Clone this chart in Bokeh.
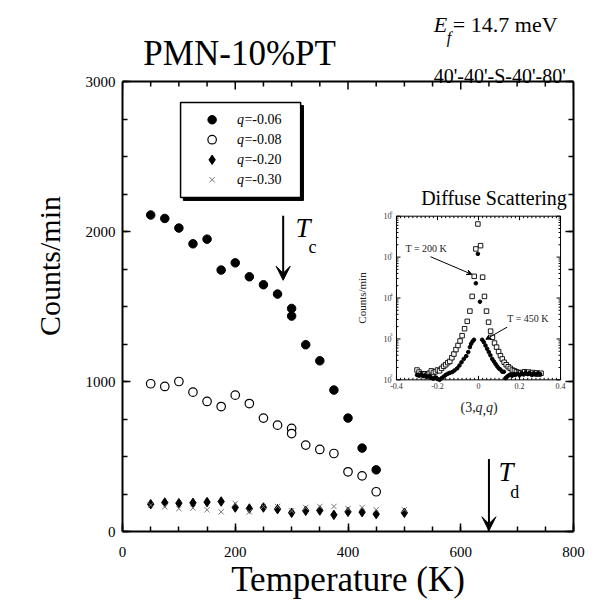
import math
from bokeh.plotting import figure
from bokeh.models import (Range1d, LogScale, LinearAxis, SingleIntervalTicker,
                          Label, Arrow, VeeHead, Title)
from bokeh.core.properties import value
from bokeh.embed import file_html
from bokeh.resources import INLINE

# ---------------- main data ----------------
temps_006 = [50, 75, 100, 125, 150, 175, 200, 225, 250, 275, 300, 300, 325, 350, 375, 400, 425, 450]
counts_006 = [2110, 2087, 2023, 1918, 1949, 1743, 1791, 1698, 1645, 1583, 1487, 1436, 1245, 1138, 943, 756, 556, 411]

temps_008 = [50, 75, 100, 125, 150, 175, 200, 225, 250, 275, 300, 300, 325, 350, 375, 400, 425, 450]
counts_008 = [985, 967, 1000, 929, 867, 833, 909, 853, 756, 709, 687, 653, 576, 547, 520, 398, 371, 265]

temps_020 = [50, 75, 100, 125, 150, 175, 200, 225, 250, 275, 300, 325, 350, 375, 400, 425, 450, 500]
counts_020 = [182, 193, 189, 191, 196, 200, 160, 153, 160, 149, 125, 138, 140, 111, 131, 129, 116, 125]

temps_030 = [50, 75, 100, 125, 150, 175, 200, 225, 250, 275, 300, 325, 350, 375, 400, 425, 450, 500]
counts_030 = [176, 165, 153, 156, 145, 131, 187, 131, 167, 167, 138, 160, 167, 167, 153, 160, 145, 145]

legend_labels = ["=-0.06", "=-0.08", "=-0.20", "=-0.30"]

# ---------------- inset data ----------------
q_200 = [-0.300, -0.290, -0.280, -0.270, -0.260, -0.250, -0.240, -0.230, -0.220, -0.210,
         -0.200, -0.190, -0.180, -0.170, -0.160, -0.150, -0.140, -0.130, -0.120, -0.110,
         -0.100, -0.090, -0.080, -0.068, -0.055, -0.042, -0.031, -0.021, -0.013, -0.003,
         0.010, 0.020, 0.029, 0.039, 0.049, 0.059, 0.068, 0.078, 0.088, 0.098,
         0.107, 0.116, 0.125, 0.135, 0.145, 0.155, 0.165, 0.175, 0.185, 0.195,
         0.205, 0.215, 0.225, 0.235, 0.245, 0.255, 0.265, 0.275, 0.285, 0.295, 0.305]
c_200 = [174, 155, 141, 135, 141, 135, 145, 166, 151, 158,
         174, 166, 191, 214, 234, 263, 282, 347, 427, 550,
         692, 891, 1202, 1778, 2692, 4786, 10960, 33900, 158500, 645700,
         190500, 32360, 10960, 4786, 2570, 1549, 1096, 794, 631, 490,
         389, 324, 269, 234, 209, 191, 174, 166, 158, 151,
         148, 151, 158, 148, 155, 145, 151, 141, 148, 138, 145]

q_450 = [-0.300, -0.290, -0.280, -0.270, -0.260, -0.250, -0.240, -0.230, -0.220, -0.210,
         -0.200, -0.190, -0.180, -0.170, -0.160, -0.150, -0.140, -0.128, -0.117, -0.104,
         -0.093, -0.083, -0.072, -0.060, -0.050, -0.042, -0.036, -0.029, -0.022, -0.013,
         -0.003, 0.007, 0.018, 0.026, 0.034, 0.042, 0.050, 0.058, 0.067, 0.075,
         0.083, 0.091, 0.099, 0.107, 0.116, 0.124, 0.132, 0.140, 0.148, 0.156,
         0.164, 0.172, 0.180, 0.190, 0.200, 0.210, 0.220, 0.230, 0.240, 0.250,
         0.260, 0.270, 0.280, 0.290, 0.300]
c_450 = [132, 126, 135, 123, 129, 117, 126, 112, 107, 115,
         105, 100, 110, 120, 132, 141, 148, 155, 170, 191,
         224, 269, 324, 380, 479, 631, 759, 871, 955, 22900,
         120200, 8128, 955, 832, 692, 575, 479, 398, 324, 282,
         245, 214, 191, 178, 158, 158, 110, 120, 129, 135,
         126, 138, 132, 141, 129, 145, 135, 148, 138, 145,
         132, 141, 135, 145, 138]

inset_xticks = [-0.4, -0.2, 0.0, 0.2, 0.4]
inset_xtick_labels = ["-0.4", "-0.2", "0", "0.2", "0.4"]
inset_yexps = [2, 3, 4, 5, 6]

top_ticks = list(range(0, 801, 50))

FONT = "Liberation Serif"
Y_MAX = 3000          # top of the data box
Y_TOP = 3540          # frame continues above the box so the titles stay inside it

p = figure(width=595, height=605, x_range=Range1d(0, 800), y_range=Range1d(0, Y_TOP),
           output_backend="svg", toolbar_location=None, title=None,
           min_border_left=122, min_border_right=22, min_border_top=0,
           min_border_bottom=74)
p.xgrid.visible = False
p.ygrid.visible = False
p.outline_line_color = None
p.background_fill_color = "white"
p.border_fill_color = "white"

def style_axis(ax, interval, minor, show_labels):
    ax.ticker = SingleIntervalTicker(interval=interval, num_minor_ticks=minor)
    ax.axis_line_width = 2
    ax.axis_line_color = "black"
    ax.major_tick_in = 8
    ax.major_tick_out = 0
    ax.minor_tick_in = 5
    ax.minor_tick_out = 0
    ax.major_tick_line_width = 1.5
    ax.minor_tick_line_width = 1.5
    ax.major_label_text_font = FONT
    if show_labels:
        ax.major_label_text_font_size = "15px"
        ax.major_label_text_color = "black"
    else:
        ax.major_label_text_font_size = "1px"
        ax.major_label_text_color = None
        ax.major_label_standoff = 0

xa = p.xaxis[0]
ya = p.yaxis[0]
style_axis(xa, 200, 4, True)
style_axis(ya, 1000, 4, True)
ya.bounds = (0, Y_MAX)
xa.major_label_standoff = 15
ya.major_label_standoff = 7
xa.axis_label = "Temperature (K)"
xa.axis_label_text_font = FONT
xa.axis_label_text_font_style = "normal"
xa.axis_label_text_color = "black"
xa.axis_label_text_font_size = "35px"
xa.axis_label_standoff = 0

# y axis title: centred on the 0..3000 box, not on the taller frame
ytitle = Title(text="Counts/min", align="center", offset=-40, standoff=30,
               vertical_align="top",
               text_font=FONT, text_font_size="30px", text_font_style="normal",
               text_color="black")
p.add_layout(ytitle, "left")

right_ax = LinearAxis()
style_axis(right_ax, 1000, 4, False)
right_ax.bounds = (0, Y_MAX)
p.add_layout(right_ax, "right")

# top edge of the box with inward ticks
p.segment(x0=[0], y0=[Y_MAX], x1=[800], y1=[Y_MAX], line_color="black", line_width=2)
p.ray(x=top_ticks, y=[Y_MAX] * len(top_ticks),
      length=[8 if t % 200 == 0 else 5 for t in top_ticks], length_units="screen",
      angle=-math.pi / 2, line_color="black", line_width=1.5)

# ---------------- main series ----------------
p.scatter(temps_006, counts_006, marker="circle", size=8.5, fill_color="black", line_color="black")
p.scatter(temps_008, counts_008, marker="circle", size=8.5, fill_color="white", line_color="black", line_width=1.2)
p.scatter(temps_020, counts_020, marker="diamond", size=9.5, fill_color="black", line_color="black")
p.scatter(temps_030, counts_030, marker="x", size=7.5, line_color="#777777", line_width=1)

# ---------------- legend box ----------------
p.quad(left=[108], right=[321], bottom=[2207], top=[2840], fill_color="black", line_color="black")
p.quad(left=[103], right=[316], bottom=[2227], top=[2860], fill_color="white", line_color="black", line_width=1.5)
leg_y = [2745, 2612, 2478, 2345]
leg_x = [159] * 4
p.scatter(leg_x[0:1], leg_y[0:1], marker="circle", size=8.5, fill_color="black", line_color="black")
p.scatter(leg_x[1:2], leg_y[1:2], marker="circle", size=8.5, fill_color="white", line_color="black", line_width=1.2)
p.scatter(leg_x[2:3], leg_y[2:3], marker="diamond", size=9.5, fill_color="black", line_color="black")
p.scatter(leg_x[3:4], leg_y[3:4], marker="x", size=7.5, line_color="#777777", line_width=1)
for yy, lab in zip(leg_y, legend_labels):
    p.add_layout(Label(x=203, y=yy, text="q", text_font=FONT, text_font_style="italic",
                       text_font_size="14px", text_baseline="middle", text_color="black"))
    p.add_layout(Label(x=203, y=yy, x_offset=7.5, text=lab, text_font=FONT,
                       text_font_size="14px", text_baseline="middle", text_color="black"))

# ---------------- texts ----------------
def label(x, y, text, size, style="normal", **kw):
    p.add_layout(Label(x=x, y=y, text=text, text_font=FONT, text_font_style=style,
                       text_font_size=size, text_color="black", **kw))

label(37, 3190, "PMN-10%PT", "35px", text_baseline="alphabetic")
label(552, 3380, "E", "22px", "italic", text_baseline="alphabetic")
label(575, 3293, "f", "16px", "italic", text_baseline="alphabetic")
label(586, 3380, "= 14.7 meV", "22px", text_baseline="alphabetic")
label(552, 3040, "40'-40'-S-40'-80'", "20px", text_baseline="alphabetic")

label(659, 2153, "Diffuse Scattering", "20px", text_align="center")
label(307, 1925, "T", "27px", "italic")
label(330, 1828, "c", "18px")
label(667, 300, "T", "27px", "italic")
label(688, 200, "d", "18px")

p.add_layout(Arrow(end=VeeHead(size=14, fill_color="black", line_color="black"),
                   x_start=285, y_start=2105, x_end=285, y_end=1675,
                   line_width=2, line_color="black"))
p.add_layout(Arrow(end=VeeHead(size=14, fill_color="black", line_color="black"),
                   x_start=650, y_start=483, x_end=650, y_end=5,
                   line_width=2, line_color="black"))

# ---------------- inset (extra ranges) ----------------
IX0, IX1 = 486.0, 777.0
IY0, IY1 = 1011.0, 2102.0
sx = 0.8 / (IX1 - IX0)
p.extra_x_ranges = {"ix": Range1d(-0.4 - IX0 * sx, 0.4 + (800 - IX1) * sx)}
sy = 4.0 / (IY1 - IY0)
p.extra_y_ranges = {"iy": Range1d(10 ** (2 - IY0 * sy), 10 ** (6 + (Y_TOP - IY1) * sy))}
p.extra_y_scales = {"iy": LogScale()}
R = dict(x_range_name="ix", y_range_name="iy")

p.quad(left=[-0.4], right=[0.4], bottom=[100], top=[1e6], fill_color=None,
       line_color="black", line_width=1, **R)

xmaj = inset_xticks
xmin = [round(-0.4 + 0.02 * i, 3) for i in range(41)]
ymaj = [10 ** e for e in inset_yexps]
ymin = [m * 10 ** e for e in inset_yexps[:-1] for m in range(2, 10)]
tick = dict(line_color="black", line_width=1, length_units="screen", **R)
p.ray(x=xmaj, y=[100] * len(xmaj), length=4, angle=math.pi / 2, **tick)
p.ray(x=xmaj, y=[1e6] * len(xmaj), length=4, angle=-math.pi / 2, **tick)
p.ray(x=xmin, y=[100] * len(xmin), length=2, angle=math.pi / 2, **tick)
p.ray(x=xmin, y=[1e6] * len(xmin), length=2, angle=-math.pi / 2, **tick)
p.ray(x=[-0.4] * len(ymaj), y=ymaj, length=4, angle=0, **tick)
p.ray(x=[0.4] * len(ymaj), y=ymaj, length=4, angle=math.pi, **tick)
p.ray(x=[-0.4] * len(ymin), y=ymin, length=2, angle=0, **tick)
p.ray(x=[0.4] * len(ymin), y=ymin, length=2, angle=math.pi, **tick)

p.text(x=xmaj, y=[100] * len(xmaj), text=inset_xtick_labels, y_offset=3,
       text_font=value(FONT), text_font_size=value("8px"), text_align="center",
       text_baseline="top", text_color="#333333", **R)
p.text(x=[-0.4] * len(ymaj), y=ymaj, text=["10"] * len(ymaj), x_offset=-5,
       text_font=value(FONT), text_font_size=value("8px"), text_align="right",
       text_baseline="middle", text_color="#333333", **R)
p.text(x=[-0.4] * len(ymaj), y=ymaj, text=[str(e) for e in inset_yexps], x_offset=-4, y_offset=-4,
       text_font=value(FONT), text_font_size=value("5px"), text_align="right",
       text_baseline="middle", text_color="#333333", **R)

p.scatter(q_200, c_200, marker="square", size=4.5, fill_color="white", line_color="black",
          line_width=0.9, **R)
p.scatter(q_450, c_450, marker="circle", size=3.6, fill_color="black", line_color="black", **R)

def ilabel(x, y, text, size, style="normal", **kw):
    p.add_layout(Label(x=x, y=y, text=text, text_font=FONT, text_font_style=style,
                       text_font_size=size, text_color="#222222", x_range_name="ix",
                       y_range_name="iy", **kw))

ilabel(-0.356, 10 ** 5.21, "T = 200 K", "10px", text_baseline="middle")
ilabel(0.14, 10 ** 3.5, "T = 450 K", "10px", text_baseline="middle")
p.add_layout(Arrow(end=VeeHead(size=5, fill_color="black", line_color="black"),
                   x_start=-0.234, y_start=10 ** 5.01, x_end=-0.033, y_end=10 ** 4.58,
                   line_width=1, line_color="black", **R))
p.add_layout(Arrow(end=VeeHead(size=5, fill_color="black", line_color="black"),
                   x_start=0.14, y_start=10 ** 3.29, x_end=0.036, y_end=10 ** 2.99,
                   line_width=1, line_color="black", **R))

ilabel(-0.57, 10 ** 4.0, "Counts/min", "11px", angle=math.pi / 2,
       text_align="center", text_baseline="middle")
qx = 0.0
qy = 10 ** 1.15
ilabel(qx, qy, "(3,", "14px", x_offset=-18)
ilabel(qx, qy, "q", "14px", "italic", x_offset=-3)
ilabel(qx, qy, ",", "14px", x_offset=4)
ilabel(qx, qy, "q", "14px", "italic", x_offset=7.5)
ilabel(qx, qy, ")", "14px", x_offset=14.5)

open("out.html", "w").write(file_html(p, INLINE))
